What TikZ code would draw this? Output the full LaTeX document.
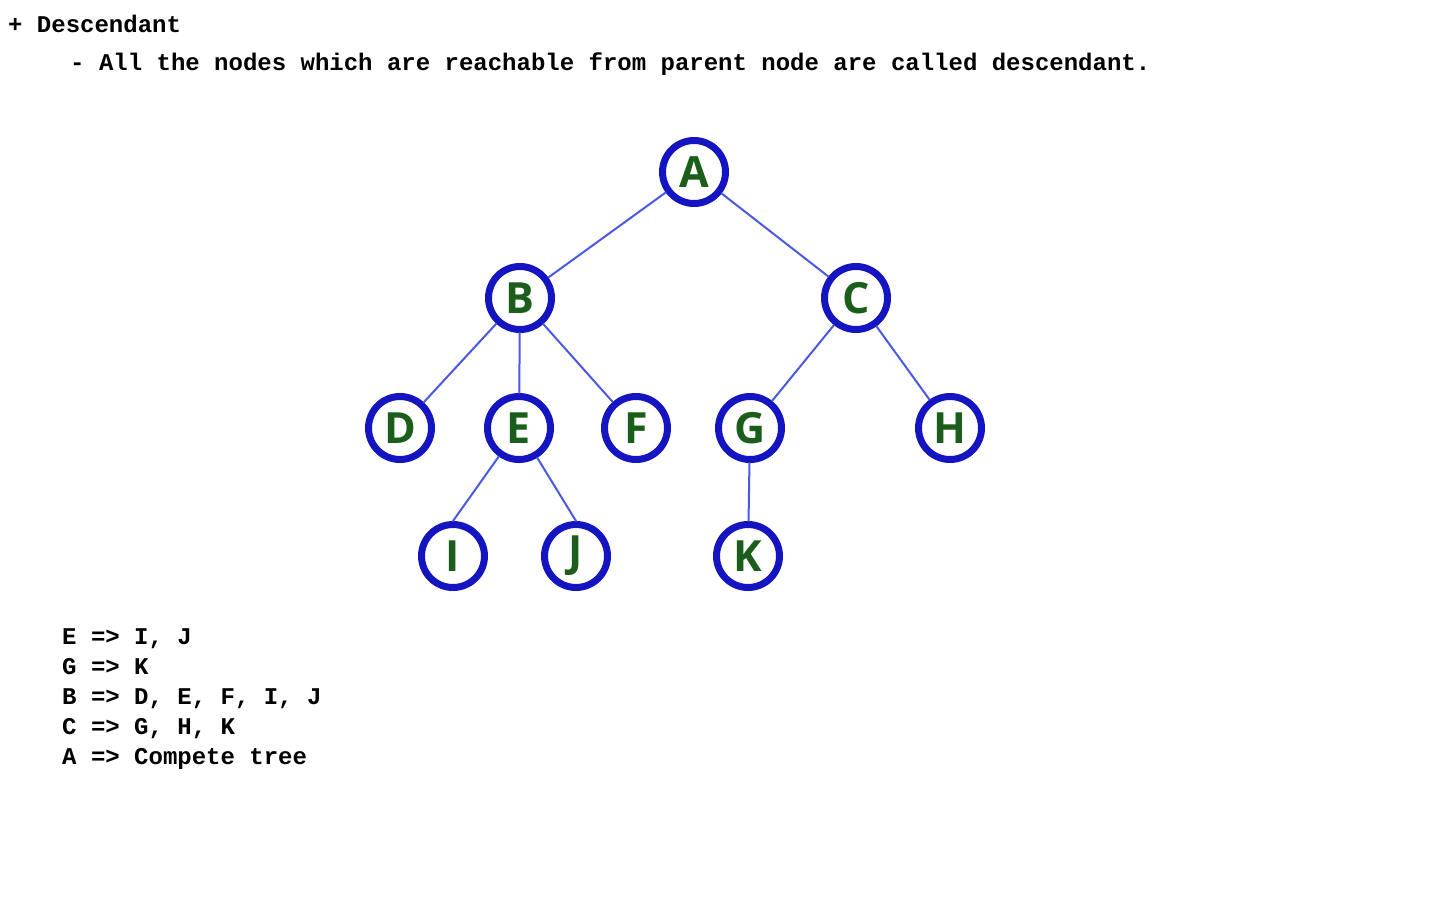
\documentclass[tikz,border=0pt]{standalone}
\usepackage{fontspec}
\setmonofont{Liberation Mono}
\newfontfamily\nodefont{Open Sans}
\definecolor{ringblue}{HTML}{1414C0}
\definecolor{edgeblue}{HTML}{4A5AE0}
\definecolor{letgreen}{HTML}{1B5E1B}
\tikzset{
  treenode/.style={circle,draw=ringblue,line width=7pt,minimum size=63pt,inner sep=0pt,
    text=letgreen,font=\nodefont\bfseries\fontsize{43}{43}\selectfont},
  treeedge/.style={draw=edgeblue,line width=2pt},
  monotext/.style={anchor=base west,inner sep=0pt,font=\ttfamily\bfseries\fontsize{24}{30}\selectfont}
}
\begin{document}
\begin{tikzpicture}[x=1pt,y=-1pt,line join=round,line cap=round]
  \useasboundingbox (0,0) rectangle (1440,900);
  % Texte
  \node[monotext] (title) at (8,32) {+ Descendant};
  \node[monotext] (defn) at (70,70) {- All the nodes which are reachable from parent node are called descendant.};
  % Arbre
  \node[treenode] (A) at (694,172) {A};
  \node[treenode] (B) at (520,298) {B};
  \node[treenode] (C) at (856,298) {C};
  \node[treenode] (D) at (400,428) {D};
  \node[treenode] (E) at (519,428) {E};
  \node[treenode] (F) at (636,428) {F};
  \node[treenode] (G) at (750,428) {G};
  \node[treenode] (H) at (950,428) {H};
  \node[treenode] (I) at (453,556) {I};
  \node[treenode] (J) at (576,556) {J};
  \node[treenode] (K) at (748,556) {K};
  \foreach \p/\c in {A/B,A/C,B/D,B/E,B/F,C/G,C/H,G/K}
    \draw[treeedge] (\p) -- (\c);
  \draw[treeedge] (E) -- (I.north);
  \draw[treeedge] (E) -- (J.north);
  % Liste
  \node[monotext] (lE) at (62,644) {E => I, J};
  \node[monotext] (lG) at (62,674) {G => K};
  \node[monotext] (lB) at (62,704) {B => D, E, F, I, J};
  \node[monotext] (lC) at (62,734) {C => G, H, K};
  \node[monotext] (lA) at (62,764) {A => Compete tree};
\end{tikzpicture}
\end{document}
